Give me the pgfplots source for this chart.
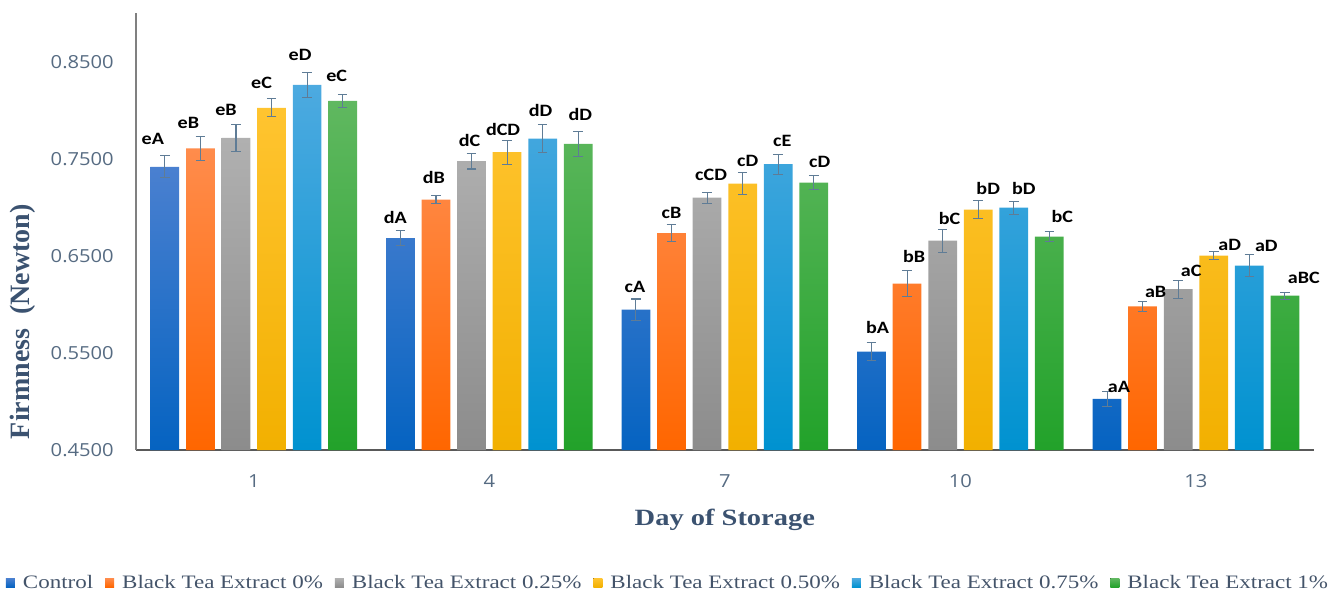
\documentclass[border=0pt]{standalone}
\usepackage{pgfplots}
\pgfplotsset{compat=1.18}
\usepackage{pgfplotstable}
\usepackage{fontspec}
\setmainfont{Liberation Serif}[FakeStretch=1.21]
\newfontfamily\lblfont{Carlito}[FakeStretch=1.16]
\newfontfamily\tickfont{Open Sans}[FakeStretch=1.12]
\newfontfamily\titlefont{Liberation Serif}[FakeStretch=1.22]
\newfontfamily\ytitlefont{Liberation Serif}

\definecolor{c0t}{HTML}{4A80D0}\definecolor{c0b}{HTML}{0563C1}
\definecolor{c1t}{HTML}{FF8C4C}\definecolor{c1b}{HTML}{FF6600}
\definecolor{c2t}{HTML}{B0B0B0}\definecolor{c2b}{HTML}{8C8C8C}
\definecolor{c3t}{HTML}{FFC430}\definecolor{c3b}{HTML}{F2B000}
\definecolor{c4t}{HTML}{4DAAE0}\definecolor{c4b}{HTML}{0092D0}
\definecolor{c5t}{HTML}{60B860}\definecolor{c5b}{HTML}{22A22A}
\definecolor{errc}{HTML}{5F7C96}
\definecolor{tickc}{HTML}{566B82}
\definecolor{labc}{HTML}{3B5270}
\definecolor{legc}{HTML}{44546A}
\definecolor{xaxc}{HTML}{595959}
\definecolor{yaxc}{HTML}{808080}

% x: day index (0=1,1=4,2=7,3=10,4=13); y: firmness; e: error; dx,dy: label offsets in px
\pgfplotstableread{
x y e dx dy lab
0 0.7418 0.0113 -12 11 eA
1 0.6683 0.0077 -5 7.6 dA
2 0.5946 0.0110 -1 7 cA
3 0.5513 0.0093 6 9 bA
4 0.5026 0.0077 12 -0.7 aA
}\tctrl
\pgfplotstableread{
x y e dx dy lab
0 0.7608 0.0127 -12 8 eB
1 0.7080 0.0038 -2 12.7 dB
2 0.6734 0.0090 0 5.7 cB
3 0.6215 0.0134 7 8 bB
4 0.5981 0.0052 13 3.7 aB
}\tbzero
\pgfplotstableread{
x y e dx dy lab
0 0.7716 0.0139 -10 9 eB
1 0.7476 0.0080 -2 6.7 dC
2 0.7101 0.0057 4 11.6 cCD
3 0.6658 0.0119 7 4.7 bC
4 0.6157 0.0091 13 4 aC
}\tbquarter
\pgfplotstableread{
x y e dx dy lab
0 0.8026 0.0093 -10 10 eC
1 0.7569 0.0125 -4 4.3 dCD
2 0.7245 0.0115 5 6 cD
3 0.6977 0.0095 10 6 bD
4 0.6503 0.0040 16 1 aD
}\tbhalf
\pgfplotstableread{
x y e dx dy lab
0 0.8263 0.0129 -7 11.7 eD
1 0.7709 0.0144 -2 7.7 dD
2 0.7445 0.0103 4 7.6 cE
3 0.6998 0.0067 10 7 bD
4 0.6400 0.0111 17 3 aD
}\tbthreeq
\pgfplotstableread{
x y e dx dy lab
0 0.8098 0.0067 -6 13 eC
1 0.7655 0.0127 2 11 dD
2 0.7256 0.0072 6 8.4 cD
3 0.6699 0.0052 13 9.4 bC
4 0.6090 0.0036 19 8.7 aBC
}\tbone

\pgfplotsset{
  errplot/.style={forget plot, draw=none, mark=none,
    error bars/.cd, y dir=both, y explicit,
    error bar style={line width=0.8pt, draw=errc},
    error mark options={rotate=90, mark size=3.6pt, line width=0.8pt, draw=errc}},
  lblplot/.style={forget plot, draw=none, mark=none, nodes near coords,
    point meta=explicit symbolic,
    nodes near coords style={anchor=base, inner sep=0pt,
      font=\lblfont\bfseries\fontsize{13pt}{14pt}\selectfont, text=black}},
  barplot/.style={ybar, bar width=0.122, bar shift=0pt, draw=none},
}

\begin{document}
\begin{tikzpicture}
\useasboundingbox (-102pt,-108pt) rectangle (901.5pt,337.5pt);
\begin{axis}[
  scale only axis, width=883.3pt, height=327.5pt,
  xmin=-0.5, xmax=4.5, ymin=0.45, ymax=0.9,
  xtick={0,1,2,3,4}, xticklabels={1,4,7,10,13},
  ytick={0.45,0.55,0.65,0.75,0.85},
  major tick length=0pt,
  axis x line*=bottom, axis y line*=left,
  x axis line style={-, draw=xaxc, line width=1.1pt},
  y axis line style={-, draw=yaxc, line width=1.1pt},
  clip=false,
  ticklabel style={font=\tickfont\fontsize{13.5pt}{16pt}\selectfont, text=tickc, inner sep=0pt},
  yticklabel style={/pgf/number format/fixed, /pgf/number format/fixed zerofill,
    /pgf/number format/precision=4, /pgf/number format/assume math mode=true, xshift=-16.5pt},
  xticklabel style={yshift=-18pt},
  xlabel={Day of Storage},
  xlabel style={at={(axis description cs:0.5,-0.174)}, anchor=base,
    font=\titlefont\bfseries\fontsize{17.5pt}{20pt}\selectfont, text=labc},
  ylabel={Firmness\ \ (Newton)},
  ylabel style={at={(axis description cs:-0.0959,0.294)}, anchor=center,
    font=\ytitlefont\bfseries\fontsize{21pt}{24pt}\selectfont, text=labc},
  legend columns=-1,
  legend style={at={(axis description cs:0.4509,-0.304)}, anchor=center,
    draw=none, fill=none, inner sep=0pt,
    font=\fontsize{14.25pt}{16pt}\selectfont, text=legc,
    nodes={inner sep=0pt},
    /tikz/every odd column/.append style={column sep=6pt},
    /tikz/every even column/.append style={column sep=9pt}},
  legend image code/.code={\fill[#1,draw=none] (0pt,-3.375pt) rectangle (6.75pt,3.375pt);},
]
\addplot[barplot, top color=c0t, bottom color=c0b] table[x expr=\thisrow{x}-0.3775, y=y] {\tctrl};
\addlegendentry{Control}
\addplot[barplot, top color=c1t, bottom color=c1b] table[x expr=\thisrow{x}-0.2265, y=y] {\tbzero};
\addlegendentry{Black Tea Extract 0\%}
\addplot[barplot, top color=c2t, bottom color=c2b] table[x expr=\thisrow{x}-0.0755, y=y] {\tbquarter};
\addlegendentry{Black Tea Extract 0.25\%}
\addplot[barplot, top color=c3t, bottom color=c3b] table[x expr=\thisrow{x}+0.0755, y=y] {\tbhalf};
\addlegendentry{Black Tea Extract 0.50\%}
\addplot[barplot, top color=c4t, bottom color=c4b] table[x expr=\thisrow{x}+0.2265, y=y] {\tbthreeq};
\addlegendentry{Black Tea Extract 0.75\%}
\addplot[barplot, top color=c5t, bottom color=c5b] table[x expr=\thisrow{x}+0.3775, y=y] {\tbone};
\addlegendentry{Black Tea Extract 1\%}

\addplot[errplot] table[x expr=\thisrow{x}-0.3775, y=y, y error=e] {\tctrl};
\addplot[errplot] table[x expr=\thisrow{x}-0.2265, y=y, y error=e] {\tbzero};
\addplot[errplot] table[x expr=\thisrow{x}-0.0755, y=y, y error=e] {\tbquarter};
\addplot[errplot] table[x expr=\thisrow{x}+0.0755, y=y, y error=e] {\tbhalf};
\addplot[errplot] table[x expr=\thisrow{x}+0.2265, y=y, y error=e] {\tbthreeq};
\addplot[errplot] table[x expr=\thisrow{x}+0.3775, y=y, y error=e] {\tbone};

\addplot[lblplot] table[x expr=\thisrow{x}-0.3775+\thisrow{dx}/235.55, y expr=\thisrow{y}+\thisrow{e}+\thisrow{dy}/970.8, meta=lab] {\tctrl};
\addplot[lblplot] table[x expr=\thisrow{x}-0.2265+\thisrow{dx}/235.55, y expr=\thisrow{y}+\thisrow{e}+\thisrow{dy}/970.8, meta=lab] {\tbzero};
\addplot[lblplot] table[x expr=\thisrow{x}-0.0755+\thisrow{dx}/235.55, y expr=\thisrow{y}+\thisrow{e}+\thisrow{dy}/970.8, meta=lab] {\tbquarter};
\addplot[lblplot] table[x expr=\thisrow{x}+0.0755+\thisrow{dx}/235.55, y expr=\thisrow{y}+\thisrow{e}+\thisrow{dy}/970.8, meta=lab] {\tbhalf};
\addplot[lblplot] table[x expr=\thisrow{x}+0.2265+\thisrow{dx}/235.55, y expr=\thisrow{y}+\thisrow{e}+\thisrow{dy}/970.8, meta=lab] {\tbthreeq};
\addplot[lblplot] table[x expr=\thisrow{x}+0.3775+\thisrow{dx}/235.55, y expr=\thisrow{y}+\thisrow{e}+\thisrow{dy}/970.8, meta=lab] {\tbone};
\end{axis}
\end{tikzpicture}
\end{document}
